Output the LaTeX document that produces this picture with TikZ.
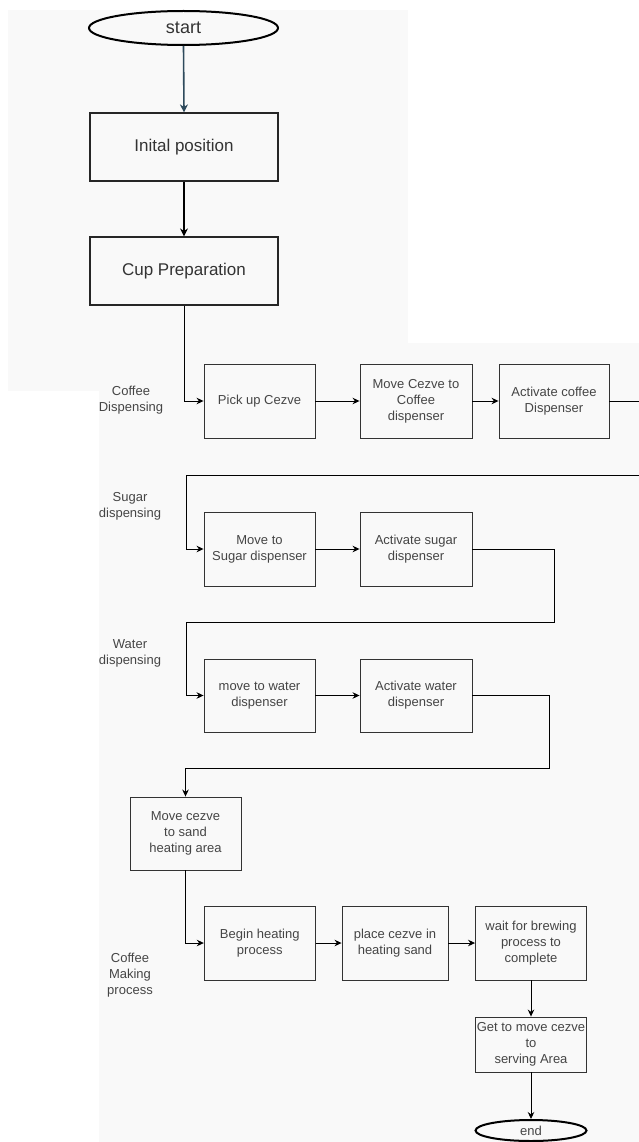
\documentclass[tikz,border=0pt]{standalone}
\usepackage{fontspec}
\setmainfont{Liberation Sans}
\usetikzlibrary{arrows.meta,shapes.geometric}
\definecolor{panel}{HTML}{F9F9F9}
\definecolor{ink}{HTML}{333333}
\definecolor{txt}{HTML}{454545}
\definecolor{bluearrow}{HTML}{2E4A5C}
\tikzset{
  topbox/.style={draw=black!85, line width=1.2pt, minimum width=188pt, minimum height=68pt, inner sep=0pt,
    font=\fontsize{17}{20}\selectfont, text=black!80},
  stepbox/.style={draw=ink, line width=0.9pt, minimum width=111pt, minimum height=74pt, inner sep=0pt,
    align=center, font=\fontsize{13}{16}\selectfont, text=txt},
  term/.style={ellipse, draw=black, line width=2pt, inner sep=0pt},
  lane/.style={align=center, font=\fontsize{13}{16}\selectfont, text=txt},
  topflow/.style={draw=black, line width=1.3pt, -{Stealth[length=8pt,width=8pt]}},
  flow/.style={draw=black, line width=0.9pt, -{Stealth[length=7pt,width=6.5pt]}}
}
\begin{document}
\begin{tikzpicture}[x=1pt,y=-1pt]
\useasboundingbox (0,0) rectangle (639,1142);
\clip (0,0) rectangle (639,1142);
\fill[white] (0,0) rectangle (639,1142);
\fill[panel] (8,10) rectangle (408,391);
\fill[panel] (99,343) rectangle (639,1142);

% top part
\node[term, minimum width=189pt, minimum height=34pt, font=\fontsize{18}{20}\selectfont, text=black!80] (start) at (183.5,28) {start};
\node[topbox] (init) at (184,147) {Inital position};
\node[topbox] (cup) at (184,271) {Cup Preparation};
\draw[topflow, draw=bluearrow, line width=1.6pt] (start.south) -- (init.north);
\draw[topflow] (init.south) -- (cup.north);

% lane labels
\node[lane] (lab1) at (131,400) {Coffee\\Dispensing};
\node[lane] (lab2) at (130,506) {Sugar\\dispensing};
\node[lane] (lab3) at (130,653) {Water\\dispensing};
\node[lane] (lab4) at (130,975) {Coffee\\Making\\process};

% coffee dispensing row
\node[stepbox] (pick) at (259.5,401) {Pick up Cezve};
\node[stepbox, minimum width=112pt] (movec) at (416,401) {Move Cezve to\\ Coffee\\dispenser};
\node[stepbox, minimum width=110pt] (actc) at (554,401) {Activate coffee\\Dispenser};

% sugar row
\node[stepbox] (msugar) at (259.5,549) {Move to\\Sugar dispenser};
\node[stepbox, minimum width=112pt] (asugar) at (416,549) {Activate sugar\\dispenser};

% water row
\node[stepbox, minimum height=73pt] (mwater) at (259.5,695.5) {move to water\\dispenser};
\node[stepbox, minimum width=112pt, minimum height=73pt] (awater) at (416,695.5) {Activate water\\dispenser};

% sand
\node[stepbox, minimum height=73pt] (msand) at (185.5,833.5) {Move cezve\\to sand\\heating area};

% coffee making row
\node[stepbox] (bheat) at (259.75,943) {Begin heating\\process};
\node[stepbox, minimum width=106pt] (place) at (395,943) {place cezve in\\heating sand};
\node[stepbox] (wait) at (531,943) {wait for brewing\\process to\\complete};
\node[stepbox, minimum height=55pt] (getm) at (531,1044.5) {Get to move cezve\\to\\serving Area};
\node[term, minimum width=111pt, minimum height=21pt, font=\fontsize{13}{14}\selectfont, text=txt] (end) at (531,1130.5) {end};

% connectors
\draw[flow] (cup.south) |- (pick.west);
\draw[flow] (pick.east) -- (movec.west);
\draw[flow] (movec.east) -- (actc.west);

\coordinate (r1) at (650,475);
\coordinate (l1) at (186,475);
\draw[flow] (actc.east) -| (r1) -- (l1) |- (msugar.west);
\draw[flow] (msugar.east) -- (asugar.west);

\coordinate (r2) at (554,622);
\coordinate (l2) at (186,622);
\draw[flow] (asugar.east) -| (r2) -- (l2) |- (mwater.west);
\draw[flow] (mwater.east) -- (awater.west);

\coordinate (r3) at (549,768);
\draw[flow] (awater.east) -| (r3) -- (r3 -| msand.north) -- (msand.north);

\draw[flow] (msand.south) |- (bheat.west);
\draw[flow] (bheat.east) -- (place.west);
\draw[flow] (place.east) -- (wait.west);
\draw[flow] (wait.south) -- (getm.north);
\draw[flow] (getm.south) -- (end.north);
\end{tikzpicture}
\end{document}
